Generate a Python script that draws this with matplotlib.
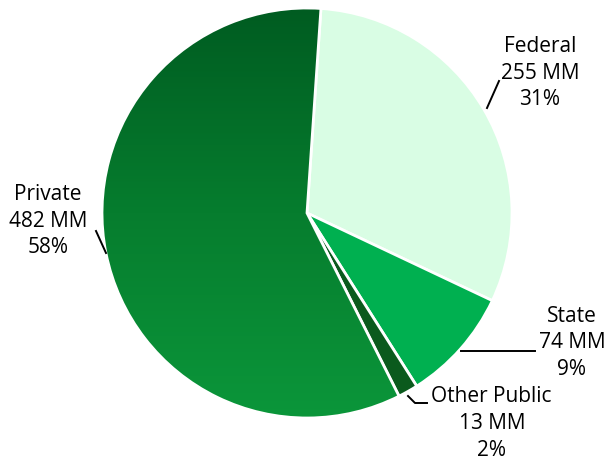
import matplotlib
matplotlib.use("Agg")
import matplotlib.pyplot as plt
import numpy as np
from matplotlib.colors import LinearSegmentedColormap

categories = ["Federal", "State", "Other Public", "Private"]
values = [255, 74, 13, 482]
percents = ["31%", "9%", "2%", "58%"]
colors = ["#d9fde4", "#00b050", "#0b5a1d", "#07842f"]

W, H = 608, 462
R = 205.0
CX, CY = 307.0, 213.0


def px(x, y):
    # pixel position -> data units of the pie
    return (x - CX) / R, (CY - y) / R


plt.rcParams['font.family'] = ['Open Sans', 'DejaVu Sans']
fig = plt.figure(figsize=(W / 100, H / 100), dpi=100)
ax = fig.add_axes([0, 0, 1, 1])

wedges, _ = ax.pie(values, colors=colors, startangle=86.1, counterclock=False,
                   radius=1, wedgeprops=dict(edgecolor="white", linewidth=2))

# vertical gradient on the Private slice
cmap = LinearSegmentedColormap.from_list("g", ["#005c21", "#067d2e", "#0b963a"])
grad = np.linspace(0, 1, 256).reshape(-1, 1)
im = ax.imshow(grad, cmap=cmap, extent=(-1, 1, -1, 1), origin="upper",
               aspect="auto", zorder=wedges[3].get_zorder() + 0.1)
im.set_clip_path(wedges[3])
wedges[3].set_facecolor("none")
wedges[3].set_zorder(im.get_zorder() + 0.1)

x0, y1 = px(0, 0)
x1, y0 = px(W, H)
ax.set_xlim(x0, x1)
ax.set_ylim(y0, y1)
ax.set_aspect("equal")
ax.axis("off")

fs = 15
tk = dict(fontsize=fs, ha="center", va="center", color="black")
lk = dict(color="black", linewidth=1.4)
ls = 1.36

# Federal
ax.text(*px(540, 73), f"{categories[0]}\n{values[0]} MM\n{percents[0]}", linespacing=ls, **tk)
ax.plot(*zip(px(487, 108), px(499, 81)), **lk)
# State
ax.text(*px(572, 343), f"{categories[1]}\n{values[1]} MM\n{percents[1]}", linespacing=ls, **tk)
ax.plot(*zip(px(461, 351), px(535, 351)), **lk)
# Other Public
ax.text(*px(431, 396), categories[2], fontsize=fs, ha="left", va="center", color="black")
ax.text(*px(492, 437), f"{values[2]} MM\n{percents[2]}", linespacing=ls, **tk)
ax.plot(*zip(px(408, 396), px(415, 403), px(427, 403)), **lk)
# Private
ax.text(*px(48, 221), f"{categories[3]}\n{values[3]} MM\n{percents[3]}", linespacing=ls, **tk)
ax.plot(*zip(px(96, 231), px(106, 253)), **lk)

fig.savefig("out.png", dpi=100)
